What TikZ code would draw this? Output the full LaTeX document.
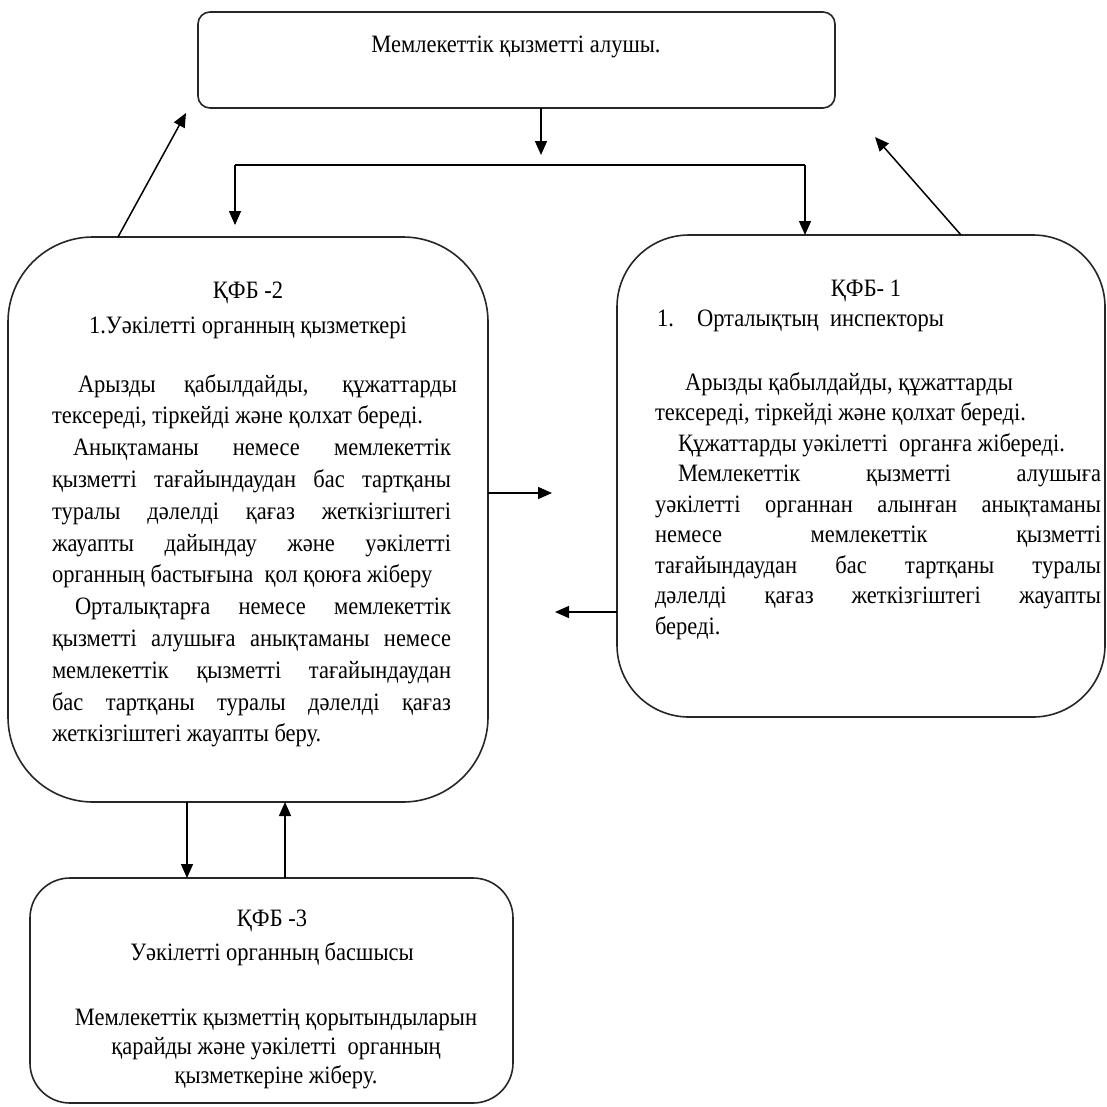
\documentclass[tikz,border=0pt]{standalone}
\usepackage{fontspec}
\setmainfont{Liberation Serif}[FakeStretch=0.9]
\usetikzlibrary{arrows.meta}
\tikzset{
  box/.style={draw=black!85, line width=1.6pt, inner sep=0pt, outer sep=0pt, anchor=north west},
  ln/.style={draw=black, line width=1.5pt},
  arr/.style={ln, -{Triangle[length=14pt,width=12pt]}},
  txt/.style={inner sep=0pt, outer sep=0pt, anchor=base west, font=\fontsize{25}{30}\selectfont},
  ctxt/.style={txt, anchor=base},
}
\newcommand{\jl}[2]{\makebox[#1][s]{#2}}
\begin{document}
\begin{tikzpicture}[x=1pt,y=-1pt]
\useasboundingbox (0,0) rectangle (1107,1106);
% boxes
\node[box, rounded corners=12pt, minimum width=637pt, minimum height=96pt] (top) at (198,12) {};
\node[box, rounded corners=85pt, minimum width=480pt, minimum height=565pt] (kfb2) at (8,237) {};
\node[box, rounded corners=72pt, minimum width=488pt, minimum height=482pt] (kfb1) at (617,235) {};
\node[box, rounded corners=40pt, minimum width=483pt, minimum height=225pt] (kfb3) at (30,878) {};

% top text
\node[ctxt] (t0) at (516,52) {Мемлекеттік қызметті алушы.};

% KFB-2
\node[ctxt] (a0) at (248,298) {ҚФБ -2};
\node[ctxt] (a00) at (248,333) {1.Уәкілетті органның қызметкері};
\node[txt] (a1) at (78,392) {\jl{379pt}{Арызды қабылдайды, құжаттарды}};
\node[txt] (a2) at (52,423.8) {тексереді, тіркейді және қолхат береді.};
\node[txt] (a3) at (73,455.6) {\jl{378pt}{Анықтаманы немесе мемлекеттік}};
\node[txt] (a4) at (52,487.4) {\jl{399pt}{қызметті тағайындаудан бас тартқаны}};
\node[txt] (a5) at (52,519.2) {\jl{399pt}{туралы дәлелді қағаз жеткізгіштегі}};
\node[txt] (a6) at (52,551) {\jl{399pt}{жауапты дайындау және уәкілетті}};
\node[txt] (a7) at (52,582.8) {органның бастығына\ \ қол қоюға жіберу};
\node[txt] (a8) at (75,614.6) {\jl{376pt}{Орталықтарға немесе мемлекеттік}};
\node[txt] (a9) at (52,646.4) {\jl{399pt}{қызметті алушыға анықтаманы немесе}};
\node[txt] (a10) at (52,678.2) {\jl{399pt}{мемлекеттік қызметті тағайындаудан}};
\node[txt] (a11) at (52,710) {\jl{399pt}{бас тартқаны туралы дәлелді қағаз}};
\node[txt] (a12) at (52,741.8) {жеткізгіштегі жауапты беру.};

% KFB-1
\node[ctxt] (b0) at (866,296) {ҚФБ- 1};
\node[txt] (b00) at (657,326) {1.};
\node[txt] (b000) at (697,326) {Орталықтың\ \ инспекторы};
\node[txt] (b1) at (685,390) {Арызды қабылдайды, құжаттарды};
\node[txt] (b2) at (655,420.5) {тексереді, тіркейді және қолхат береді.};
\node[txt] (b3) at (678,451) {Құжаттарды уәкілетті\ \ органға жібереді.};
\node[txt] (b4) at (678,481.5) {\jl{423pt}{Мемлекеттік қызметті алушыға}};
\node[txt] (b5) at (655,512) {\jl{446pt}{уәкілетті органнан алынған анықтаманы}};
\node[txt] (b6) at (655,542.5) {\jl{446pt}{немесе мемлекеттік қызметті}};
\node[txt] (b7) at (655,573) {\jl{446pt}{тағайындаудан бас тартқаны туралы}};
\node[txt] (b8) at (655,603.5) {\jl{446pt}{дәлелді қағаз жеткізгіштегі жауапты}};
\node[txt] (b9) at (655,634) {береді.};

% KFB-3
\node[ctxt] (c0) at (272,926) {ҚФБ -3};
\node[ctxt] (c00) at (272,960) {Уәкілетті органның басшысы};
\node[ctxt] (c1) at (276,1025) {Мемлекеттік қызметтің қорытындыларын};
\node[ctxt] (c2) at (276,1054) {қарайды және уәкілетті\ \ органның};
\node[ctxt] (c3) at (276,1083) {қызметкеріне жіберу.};

% connector points
\coordinate (hub) at (541,155);
\coordinate (brL) at (235,165);
\coordinate (brR) at (805,165);
\coordinate (tipL) at (235,225);
\coordinate (ul) at (186,113);
\coordinate (ur) at (875,137);
\coordinate (rt) at (552,493);
\coordinate (lt) at (555,612);

% connectors
\draw[arr] (top.south -| hub) -- (hub);
\draw[ln] (brL) -- (brR);
\draw[arr] (brL) -- (tipL);
\draw[arr] (brR) -- (brR |- kfb1.north);
\draw[arr] ([xshift=-130pt]kfb2.north) -- (ul);
\draw[arr] ([xshift=100pt]kfb1.north) -- (ur);
\draw[arr] (kfb2.east |- rt) -- (rt);
\draw[arr] (kfb1.west |- lt) -- (lt);
\draw[arr] ([xshift=-61pt]kfb2.south) -- ([xshift=-61pt]kfb2.south |- kfb3.north);
\draw[arr] ([xshift=37pt]kfb2.south |- kfb3.north) -- ([xshift=37pt]kfb2.south);
\end{tikzpicture}
\end{document}
